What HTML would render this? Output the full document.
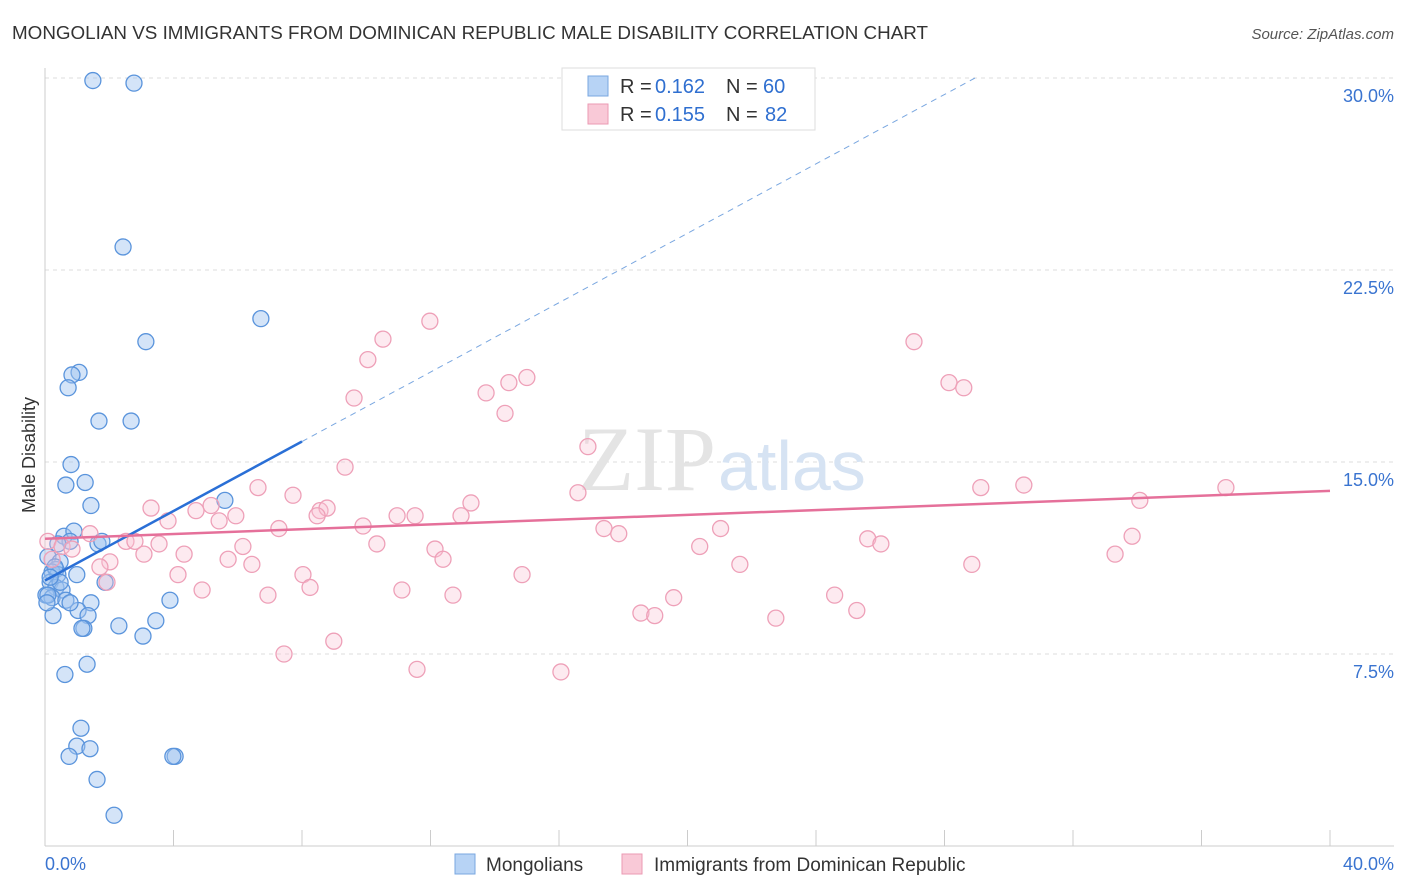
<!DOCTYPE html>
<html><head><meta charset="utf-8"><style>
body{margin:0;background:#fff;font-family:"Liberation Sans",sans-serif;}
svg{display:block}
</style></head><body>
<svg id="chart" width="1406" height="892">
<text x="12" y="39" font-size="18" fill="#333" textLength="916" lengthAdjust="spacingAndGlyphs">MONGOLIAN VS IMMIGRANTS FROM DOMINICAN REPUBLIC MALE DISABILITY CORRELATION CHART</text>
<text x="1394" y="39" font-size="15" fill="#555" font-style="italic" text-anchor="end">Source: ZipAtlas.com</text>
<text x="35" y="455" font-size="18" fill="#333" transform="rotate(-90 35 455)" text-anchor="middle">Male Disability</text>
<g id="grid"></g>
<text x="716" y="490" font-size="92" fill="#e4e4e4" font-family="Liberation Serif" text-anchor="end">ZIP</text>
<text x="718" y="490" font-size="70" fill="#d6e3f3" text-anchor="start">atlas</text>
<g id="marks"></g>
<g>
<rect x="562" y="68" width="253" height="62" fill="#fff" stroke="#ddd"/>
<rect x="588" y="76" width="20" height="20" fill="#b7d3f5" stroke="#7aa7e0"/>
<text x="620" y="93" font-size="20" fill="#333">R =</text>
<text x="655" y="93" font-size="20" fill="#2f6fd0">0.162</text>
<text x="726" y="93" font-size="20" fill="#333">N =</text>
<text x="763" y="93" font-size="20" fill="#2f6fd0">60</text>
<rect x="588" y="104" width="20" height="20" fill="#f9c9d7" stroke="#eb9ab3"/>
<text x="620" y="121" font-size="20" fill="#333">R =</text>
<text x="655" y="121" font-size="20" fill="#2f6fd0">0.155</text>
<text x="726" y="121" font-size="20" fill="#333">N =</text>
<text x="765" y="121" font-size="20" fill="#2f6fd0">82</text>
</g>
<g>
<rect x="455" y="854" width="20" height="20" fill="#b7d3f5" stroke="#7aa7e0"/>
<text x="486" y="871" font-size="19" fill="#333">Mongolians</text>
<rect x="622" y="854" width="20" height="20" fill="#f9c9d7" stroke="#eb9ab3"/>
<text x="654" y="871" font-size="19" fill="#333">Immigrants from Dominican Republic</text>
</g>
<text x="45" y="870" font-size="18" fill="#3a74d0">0.0%</text>
<text x="1394" y="870" font-size="18" fill="#3a74d0" text-anchor="end">40.0%</text>
</svg>
<script>
const yTicks=[7.5,15,22.5,30];
const yTickLabels=["7.5%","15.0%","22.5%","30.0%"];
const blueX=[1.49,2.77,2.43,6.72,3.14,1.06,0.84,0.72,1.68,2.68,0.81,0.65,1.25,1.43,5.6,0.59,0.9,1.65,0.78,0.4,1.77,0.09,0.47,0.34,0.22,0.4,0.99,0.16,0.34,0.53,0.03,0.22,1.87,0.65,1.43,3.89,1.03,0.25,1.34,1.21,1.15,2.3,3.45,3.05,1.31,0.62,1.12,0.99,1.4,0.75,4.05,3.98,1.62,2.15,0.09,0.31,0.47,0.78,0.06,0.16];
const blueY=[29.9,29.8,23.4,20.6,19.7,18.5,18.4,17.9,16.6,16.6,14.9,14.1,14.2,13.3,13.5,12.1,12.3,11.8,11.9,11.8,11.9,11.3,11.1,10.8,10.7,10.6,10.6,10.3,10.1,10.0,9.8,9.7,10.3,9.6,9.5,9.6,9.2,9.0,9.0,8.5,8.5,8.6,8.8,8.2,7.1,6.7,4.6,3.9,3.8,3.5,3.5,3.5,2.6,1.2,9.8,10.9,10.3,9.5,9.5,10.5];
const pinkX=[0.09,0.53,0.84,1.4,2.52,2.8,2.02,1.71,1.93,3.3,3.83,3.55,3.08,4.33,4.14,4.89,4.7,5.17,5.42,5.94,5.7,6.16,6.44,6.63,6.94,7.28,7.72,7.44,8.03,8.25,8.56,8.78,8.47,9.34,8.99,9.9,10.05,9.62,10.33,10.52,10.96,11.11,11.52,11.58,11.98,12.14,12.39,12.7,12.95,13.26,13.73,14.32,14.44,15.0,14.85,16.06,16.59,16.9,17.4,17.86,18.55,18.98,19.57,20.38,21.03,21.63,22.75,24.58,25.27,25.61,26.02,27.05,28.14,28.6,28.85,29.13,30.47,33.31,33.84,34.08,36.76,0.22];
const pinkY=[11.9,11.7,11.6,12.2,11.9,11.9,11.1,10.9,10.3,13.2,12.7,11.8,11.4,11.4,10.6,10.0,13.1,13.3,12.7,12.9,11.2,11.7,11.0,14.0,9.8,12.4,13.7,7.5,10.6,10.1,13.1,13.2,12.9,14.8,8.0,12.5,19.0,17.5,11.8,19.8,12.9,10.0,12.9,6.9,20.5,11.6,11.2,9.8,12.9,13.4,17.7,16.9,18.1,18.3,10.6,6.8,13.8,15.6,12.4,12.2,9.1,9.0,9.7,11.7,12.4,11.0,8.9,9.8,9.2,12.0,11.8,19.7,18.1,17.9,11.0,14.0,14.1,11.4,12.1,13.5,14.0,11.2];
const X0=45,X1=1330,Y0=846,PX=192/7.5;
const sx=v=>X0+(v/40)*(X1-X0), sy=v=>Y0-v*PX;
const NS="http://www.w3.org/2000/svg";
const grid=document.getElementById('grid'), marks=document.getElementById('marks');
function mk(tag,attrs,parent){const e=document.createElementNS(NS,tag);for(const k in attrs)e.setAttribute(k,attrs[k]);parent.appendChild(e);return e;}
yTicks.forEach((t,i)=>{
 const l=mk('line',{x1:X0,x2:1394,y1:sy(t),y2:sy(t),stroke:'#ddd','stroke-dasharray':'4,4'},grid);
 
 
 const tx=mk('text',{x:1394,y:sy(t)+24,'font-size':18,fill:'#3a74d0','text-anchor':'end'},grid);
 tx.textContent=yTickLabels[i];
 
 
});
const ax=mk('line',{x1:X0,x2:X0,y1:68,y2:846,stroke:'#ccc'},grid);


const bx=mk('line',{x1:X0,x2:1394,y1:846,y2:846,stroke:'#ccc'},grid);


for(let i=0;i<=10;i++){
 const t=mk('line',{x1:sx(i*4),x2:sx(i*4),y1:830,y2:846,stroke:'#ccc'},grid);
 
 
}
blueX.forEach((x,i)=>{
 const c=mk('circle',{cx:sx(x),cy:sy(blueY[i]),r:8,fill:'rgba(160,196,240,0.45)',stroke:'#5a94dc','stroke-width':1.3},marks);
 
 
});
pinkX.forEach((x,i)=>{
 const c=mk('circle',{cx:sx(x),cy:sy(pinkY[i]),r:8,fill:'rgba(248,196,212,0.35)',stroke:'#eea0b8','stroke-width':1.3},marks);
 
 
});
const bt=mk('line',{x1:sx(0),y1:sy(10.37),x2:sx(8),y2:sy(15.8),stroke:'#2a6fd6','stroke-width':2.5},marks);


const bd=mk('line',{x1:sx(8),y1:sy(15.8),x2:sx(28.95),y2:sy(30),stroke:'#7aa7e0','stroke-width':1,'stroke-dasharray':'6,5'},marks);


const pt=mk('line',{x1:sx(0),y1:sy(12.0),x2:sx(40),y2:sy(13.87),stroke:'#e5709a','stroke-width':2.5},marks);


</script>
</body></html>
